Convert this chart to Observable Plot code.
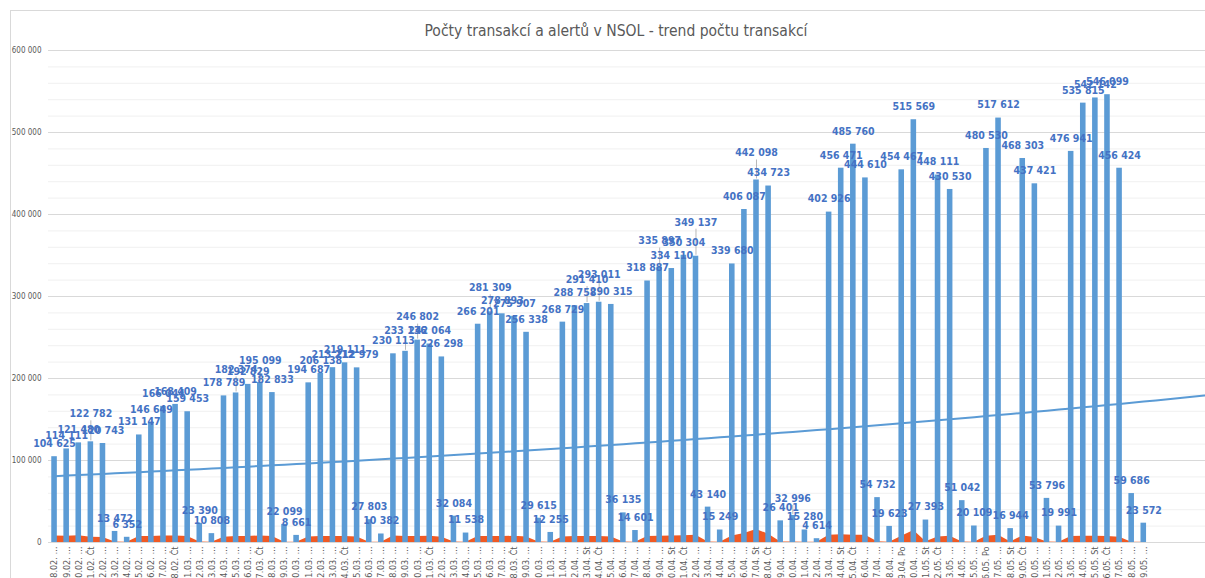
<!DOCTYPE html>
<html>
<head>
<meta charset="utf-8">
<script src="https://cdn.jsdelivr.net/npm/d3@7"></script>
<script src="https://cdn.jsdelivr.net/npm/@observablehq/plot@0.6"></script>
<style>
  html, body { margin: 0; padding: 0; background: #fff; width: 1205px; height: 578px; overflow: hidden; }
  #wrap { position: relative; width: 1205px; height: 578px; }
  #chart { position: absolute; left: 0; top: 0; }
  #border { position: absolute; left: 10px; top: 10px; width: 1300px; height: 700px; border: 1px solid #d9d9d9; pointer-events: none; }
  #title { position: absolute; left: 0; top: 22px; width: 1232px; text-align: center; font-family: "Liberation Sans Narrow", "DejaVu Sans Condensed", sans-serif; font-size: 15.5px; color: #595959; }
</style>
</head>
<body>
<div id="wrap">
  <div id="chart"></div>
  <div id="border"></div>
  <div id="title">Počty transakcí a alertů v NSOL - trend počtu transakcí</div>
</div>
<script>
const xLabels = [
  "18.02. …","19.02. …","20.02. …","21.02. Čt","22.02. …","23.02. …","24.02. …","25.02. …","26.02. …","27.02. …","28.02. Čt",
  "01.03. …","02.03. …","03.03. …","04.03. …","05.03. …","06.03. …","07.03. Čt","08.03. …","09.03. …","10.03. …",
  "11.03. …","12.03. …","13.03. …","14.03. Čt","15.03. …","16.03. …","17.03. …","18.03. …","19.03. …","20.03. …",
  "21.03. Čt","22.03. …","23.03. …","24.03. …","25.03. …","26.03. …","27.03. …","28.03. Čt","29.03. …","30.03. …","31.03. …",
  "01.04. …","02.04. …","03.04. St","04.04. Čt","05.04. …","06.04. …","07.04. …","08.04. …","09.04. …","10.04. St",
  "11.04. Čt","12.04. …","13.04. …","14.04. …","15.04. …","16.04. …","17.04. St","18.04. Čt","19.04. …","20.04. …",
  "21.04. …","22.04. …","23.04. …","24.04. St","25.04. Čt","26.04. …","27.04. …","28.04. …","29.04. Po","30.04. …",
  "01.05. St","02.05. Čt","03.05. …","04.05. …","05.05. …","06.05. Po","07.05. …","08.05. St","09.05. Čt","10.05. …",
  "11.05. …","12.05. …","13.05. …","14.05. …","15.05. St","16.05. Čt","17.05. …","18.05. …","19.05. …"
];

const transactions = [
  104625,114111,121480,122782,120743,13472,6352,131147,146649,166044,168409,
  159453,23390,10808,178789,182374,192829,195099,182833,22099,8661,
  194687,206138,213212,219111,212979,27803,10382,230113,233136,246802,
  242064,226298,32084,11538,266201,281309,278893,275907,256338,29615,12255,
  268729,288758,291410,293011,290315,36135,14601,318887,335897,334110,
  350304,349137,43140,15249,339680,406087,442098,434723,26401,32996,
  15280,4614,402926,456471,485760,444610,54732,19623,454467,515569,
  27393,448111,430530,51042,20109,480530,517612,16944,468303,437421,
  53796,19991,476941,535815,542142,546099,456424,59686,23572
];

const alerts = [
  7900,7500,8200,6300,6000,500,300,7300,7300,8000,8000,
  7300,500,300,6300,7300,7300,8000,7300,400,300,
  6800,7300,7300,7300,6800,400,300,8000,7300,7300,
  7600,6300,500,300,7300,7300,7300,7600,6800,500,300,
  6800,7300,7300,7300,6800,500,400,7300,7600,8000,
  8300,8800,600,400,7800,11000,16000,10000,600,500,
  300,200,8800,9300,8800,8800,1000,400,7600,14500,
  1000,6800,7600,500,300,7600,8800,500,8000,6000,
  500,300,7300,7600,7600,7300,6300,400,300
];

// layout only: extra upward offset (px) of some data labels, as Excel placed them (with leader lines)
const labelLift = {3: 15, 15: 10, 17: 9, 29: 8, 30: 10, 36: 11, 44: 11, 45: 15, 50: 13, 53: 21, 58: 14, 61: 4};

const yMajor = [0,100000,200000,300000,400000,500000,600000];
const yMinor = d3.range(0, 600001, 20000);

const fmt = n => String(Math.round(n)).replace(/\B(?=(\d{3})+(?!\d))/g, " ");

const data = transactions.map((v, i) => ({i, tx: v, al: alerts[i], lift: labelLift[i] || 0}));
const lifted = data.filter(d => d.lift > 0);

// Excel-style exponential trendline (least squares on ln y), with forward forecast
const n = transactions.length;
const xsE = d3.range(1, n + 1);
const lys = transactions.map(Math.log);
const mx = d3.mean(xsE), my = d3.mean(lys);
const b = d3.sum(xsE, (x, k) => (x - mx) * (lys[k] - my)) / d3.sum(xsE, x => (x - mx) ** 2);
const a = my - b * mx;
const trend = d3.range(0, 97).map(i => ({i, v: Math.exp(a + b * (i + 1))}));

const H = 578, MT = 50, MB = 36;
const perPx = 600000 / (H - MT - MB);

const chart = Plot.plot({
  width: 1205,
  height: H,
  marginTop: MT,
  marginBottom: MB,
  marginLeft: 48,
  marginRight: 0,
  style: {background: "transparent", fontFamily: "'Liberation Sans Narrow', 'DejaVu Sans Condensed', sans-serif"},
  x: {type: "linear", domain: [-0.5, 95.1]},
  y: {domain: [0, 600000]},
  marks: [
    Plot.ruleY(yMinor, {stroke: "#f0f0f0", strokeWidth: 1}),
    Plot.ruleY(yMajor, {stroke: "#d9d9d9", strokeWidth: 1}),
    Plot.areaY(data, {x: "i", y1: 0, y2: "al", fill: "#F05A24", curve: "linear"}),
    Plot.rect(data, {x1: d => d.i - 0.23, x2: d => d.i + 0.23, y1: 0, y2: "tx", fill: "#5B9BD5"}),
    Plot.line(trend, {x: "i", y: "v", stroke: "#5B9BD5", strokeWidth: 2, clip: true}),
    Plot.ruleX(lifted, {x: "i", y1: d => d.tx + 1 * perPx, y2: d => d.tx + (d.lift + 6) * perPx, stroke: "#a6a6a6", strokeWidth: 0.8}),
    Plot.text(data, {x: "i", y: d => d.tx + d.lift * perPx, text: d => fmt(d.tx), dy: -13, fill: "#4472C4", fontSize: 10.5, fontWeight: 600}),
    Plot.axisY({ticks: yMajor, tickFormat: fmt, tickSize: 0, tickPadding: 7, fontSize: 8, fill: "#595959", label: null}),
    Plot.axisX({ticks: d3.range(n), tickFormat: i => xLabels[i], tickRotate: -90, tickSize: 0, tickPadding: 4, fontSize: 9, fill: "#595959", label: null})
  ]
});
document.getElementById("chart").appendChild(chart);
</script>
</body>
</html>
